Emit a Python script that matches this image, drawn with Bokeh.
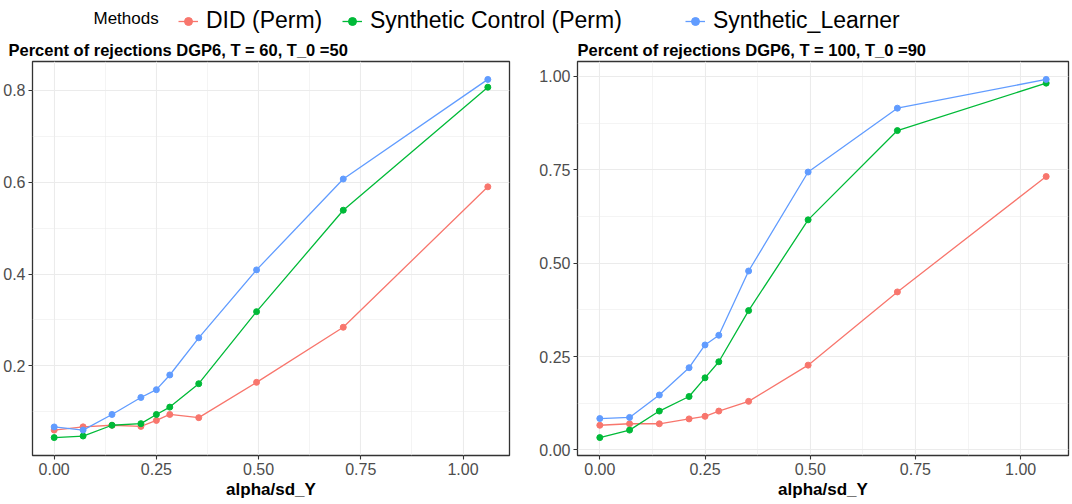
from bokeh.plotting import figure
from bokeh.models import (ColumnDataSource, Range1d, FixedTicker, PrintfTickFormatter,
                          Legend, LegendItem, Label)
from bokeh.layouts import column, row
from bokeh.embed import file_html
from bokeh.resources import INLINE

# ---------------- data ----------------
x_vals = [0.0, 0.0707, 0.1414, 0.2121, 0.25, 0.2828, 0.3536, 0.495, 0.7071, 1.0607]
methods = ["DID (Perm)", "Synthetic Control (Perm)", "Synthetic_Learner"]
colors = ["#F8766D", "#00BA38", "#619CFF"]

left_did = [0.060, 0.067, 0.0705, 0.068, 0.081, 0.094, 0.087, 0.164, 0.284, 0.590]
left_sc = [0.0436, 0.047, 0.0705, 0.074, 0.094, 0.110, 0.161, 0.318, 0.539, 0.807]
left_sl = [0.0668, 0.060, 0.094, 0.131, 0.148, 0.180, 0.261, 0.409, 0.607, 0.824]

right_did = [0.066, 0.070, 0.070, 0.083, 0.090, 0.104, 0.130, 0.227, 0.423, 0.732]
right_sc = [0.033, 0.053, 0.104, 0.143, 0.193, 0.236, 0.373, 0.616, 0.855, 0.982]
right_sl = [0.084, 0.087, 0.147, 0.220, 0.281, 0.307, 0.479, 0.744, 0.915, 0.992]

left_title = "Percent of rejections DGP6, T = 60, T_0 =50"
right_title = "Percent of rejections DGP6, T = 100, T_0 =90"
x_label = "alpha/sd_Y"
legend_title = "Methods"

x_ticks = [0.0, 0.25, 0.5, 0.75, 1.0]
x_minor = [0.125, 0.375, 0.625, 0.875, 1.125]
left_y_ticks = [0.2, 0.4, 0.6, 0.8]
left_y_minor = [0.1, 0.3, 0.5, 0.7]
right_y_ticks = [0.0, 0.25, 0.5, 0.75, 1.0]
right_y_minor = [0.125, 0.375, 0.625, 0.875]

FONT = "Liberation Sans"
TOTAL_W = 1072
LEG_H = 34
PANEL_H = 470


def make_panel(title, series, width, min_left, min_right, yticks, yminor, yfmt, title_offset):
    allv = [v for s in series for v in s]
    lo, hi = min(allv), max(allv)
    pad = (hi - lo) * 0.05
    xlo, xhi = min(x_vals), max(x_vals)
    xpad = (xhi - xlo) * 0.05
    p = figure(width=width, height=PANEL_H, output_backend="svg", toolbar_location=None,
               x_range=Range1d(xlo - xpad, xhi + xpad),
               y_range=Range1d(lo - pad, hi + pad),
               min_border_left=min_left, min_border_right=min_right,
               min_border_top=27, min_border_bottom=49)
    p.title.text = title
    p.title.text_font = FONT
    p.title.text_font_size = "16.5px"
    p.title.text_font_style = "bold"
    p.title.text_color = "black"
    p.title.standoff = 5
    p.title.offset = title_offset

    p.outline_line_color = "#333333"
    p.outline_line_width = 1.3
    p.background_fill_color = "white"
    p.border_fill_color = "white"

    p.xaxis.ticker = FixedTicker(ticks=x_ticks, minor_ticks=x_minor)
    p.yaxis.ticker = FixedTicker(ticks=yticks, minor_ticks=yminor)
    p.xaxis.formatter = PrintfTickFormatter(format="%.2f")
    p.yaxis.formatter = PrintfTickFormatter(format=yfmt)
    for ax in (p.xaxis, p.yaxis):
        ax.axis_line_color = None
        ax.major_tick_line_color = "#333333"
        ax.major_tick_line_width = 1.1
        ax.major_tick_out = 4
        ax.major_tick_in = 0
        ax.minor_tick_line_color = None
        ax.major_label_text_font = FONT
        ax.major_label_text_font_size = "16px"
        ax.major_label_text_color = "#4D4D4D"
        ax.major_label_standoff = 3
    p.xaxis.axis_label = x_label
    p.xaxis.axis_label_text_font = FONT
    p.xaxis.axis_label_text_font_size = "17px"
    p.xaxis.axis_label_text_font_style = "bold"
    p.xaxis.axis_label_text_color = "black"
    p.xaxis.axis_label_standoff = 2

    for g in (p.xgrid, p.ygrid):
        g.grid_line_color = "#EBEBEB"
        g.grid_line_width = 1.1
        g.minor_grid_line_color = "#EBEBEB"
        g.minor_grid_line_width = 0.55

    for ys, c in zip(series, colors):
        src = ColumnDataSource(dict(x=x_vals, y=ys))
        p.line("x", "y", source=src, line_color=c, line_width=1.3)
        p.scatter("x", "y", source=src, fill_color=c, line_color=c, size=6)
    return p


left = make_panel(left_title, [left_did, left_sc, left_sl], 520, 32, 11,
                  left_y_ticks, left_y_minor, "%.1f", -24)
right = make_panel(right_title, [right_did, right_sc, right_sl], TOTAL_W - 520, 57, 4,
                   right_y_ticks, right_y_minor, "%.2f", 0)

# ---------------- legend strip ----------------
# strip ranges are offset so the series feeding the legend keys fall outside them
O = 10
leg = figure(width=TOTAL_W, height=LEG_H, output_backend="svg", toolbar_location=None,
             x_range=Range1d(O, O + TOTAL_W), y_range=Range1d(O, O + LEG_H), min_border=0)
leg.axis.visible = False
leg.grid.visible = False
leg.outline_line_color = None
key_x = [178, 342, 685]
for m, c, ys, kx in zip(methods, colors, [left_did, left_sc, left_sl], key_x):
    src = ColumnDataSource(dict(x=x_vals, y=ys))
    r1 = leg.line("x", "y", source=src, line_color=c, line_width=1.3)
    r2 = leg.scatter("x", "y", source=src, fill_color=c, line_color=c, size=6)
    lg = Legend(items=[LegendItem(label=m, renderers=[r1, r2])],
                orientation="horizontal", location=(kx, 0),
                padding=0, margin=0, spacing=0, label_standoff=8,
                glyph_width=20, glyph_height=22, label_height=22,
                label_text_font=FONT, label_text_font_size="23px",
                label_text_color="black", border_line_color=None,
                background_fill_alpha=0)
    leg.add_layout(lg)
leg.add_layout(Label(x=O + 93, y=O + 16, text=legend_title, text_font=FONT,
                     text_font_size="17px", text_color="black",
                     text_baseline="middle"))

layout = column(leg, row(left, right))
open("out.html", "w").write(file_html(layout, INLINE))
